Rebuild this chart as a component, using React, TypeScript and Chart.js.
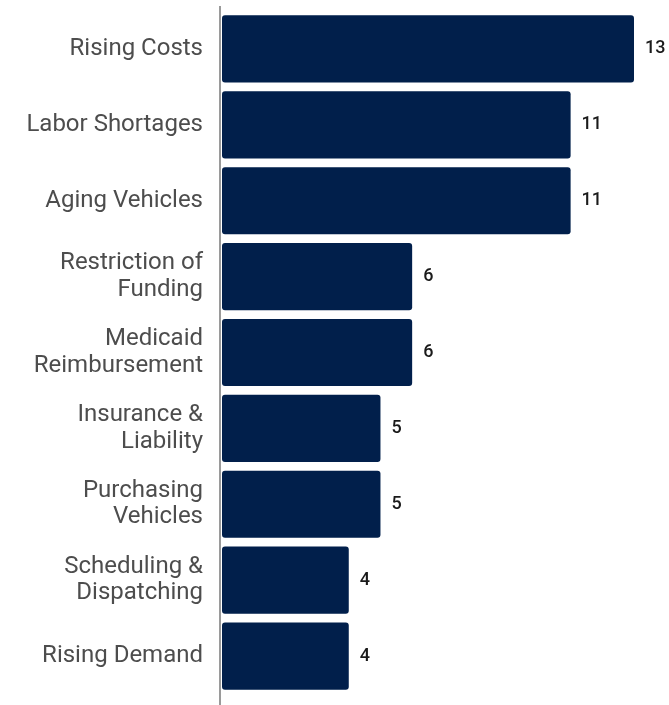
import React, { useEffect, useRef } from "react";
import { Chart, registerables } from "chart.js";

Chart.register(...registerables);

const categories: (string | string[])[] = [
  "Rising Costs",
  "Labor Shortages",
  "Aging Vehicles",
  ["Restriction of", "Funding"],
  ["Medicaid", "Reimbursement"],
  ["Insurance &", "Liability"],
  ["Purchasing", "Vehicles"],
  ["Scheduling &", "Dispatching"],
  "Rising Demand",
];
const counts = [13, 11, 11, 6, 6, 5, 5, 4, 4];

const valueLabels = {
  id: "valueLabels",
  afterDatasetsDraw(chart: any) {
    const ctx = chart.ctx;
    const meta = chart.getDatasetMeta(0);
    ctx.save();
    ctx.font = "500 18px Roboto";
    ctx.fillStyle = "#1a1a1a";
    ctx.textAlign = "left";
    ctx.textBaseline = "middle";
    meta.data.forEach((bar: any, i: number) => {
      ctx.fillText(String(chart.data.datasets[0].data[i]), bar.x + 11, bar.y);
    });
    ctx.restore();
  },
};

const axisLine = {
  id: "axisLine",
  afterDraw(chart: any) {
    const ctx = chart.ctx;
    const { left, top, bottom } = chart.chartArea;
    ctx.save();
    ctx.strokeStyle = "#9a9a9a";
    ctx.lineWidth = 2;
    ctx.beginPath();
    ctx.moveTo(left - 2, top - 5);
    ctx.lineTo(left - 2, bottom + 11);
    ctx.stroke();
    ctx.restore();
  },
};

export default function App() {
  const ref = useRef<HTMLCanvasElement | null>(null);
  useEffect(() => {
    if (!ref.current) return;
    const chart = new Chart(ref.current, {
      type: "bar",
      data: {
        labels: categories,
        datasets: [
          {
            data: counts,
            backgroundColor: "#011f4b",
            borderWidth: 0,
            borderRadius: 3,
            borderSkipped: false,
            barPercentage: 0.885,
            categoryPercentage: 1,
          },
        ],
      },
      options: {
        indexAxis: "y",
        animation: false,
        responsive: false,
        maintainAspectRatio: false,
        devicePixelRatio: 1,
        layout: { padding: { left: 0, right: 35, top: 11, bottom: 11 } },
        plugins: { legend: { display: false }, tooltip: { enabled: false } },
        scales: {
          x: { display: false, min: 0, max: 13 },
          y: {
            grid: { display: false, drawTicks: false },
            border: { display: false },
            afterFit: (scale: any) => {
              scale.width = 222;
              scale.paddingTop = 0;
              scale.paddingBottom = 0;
            },
            ticks: {
              padding: 19,
              color: "#4d4d4d",
              font: { family: "Roboto", size: 24, lineHeight: 1.1 },
              autoSkip: false,
            },
          },
        },
      },
      plugins: [valueLabels, axisLine],
    });
    return () => chart.destroy();
  }, []);
  return (
    <div style={{ position: "absolute", left: 0, top: 0, width: 669, height: 705, background: "#fff" }}>
      <canvas ref={ref} width={669} height={705} style={{ width: 669, height: 705 }} />
    </div>
  );
}
